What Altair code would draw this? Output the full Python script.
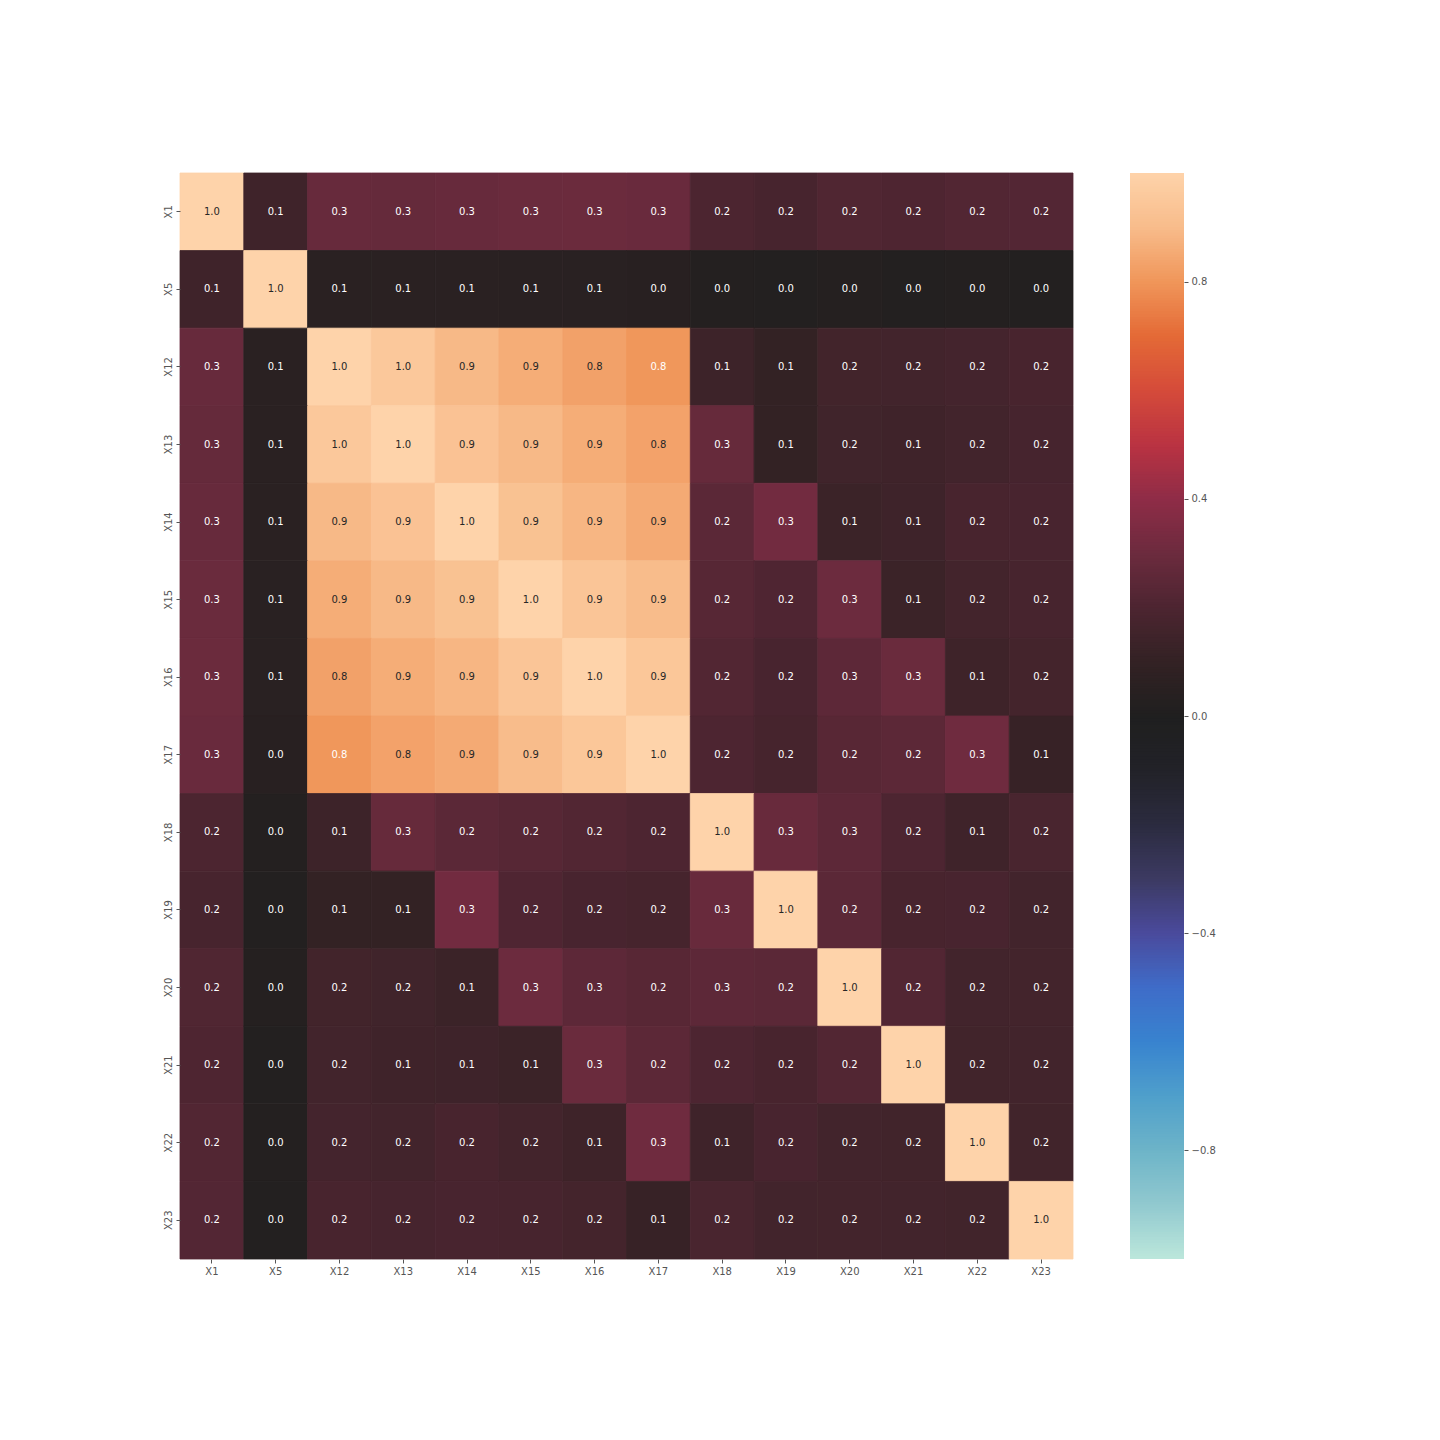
import altair as alt
import numpy as np
import pandas as pd

names = ["X1", "X5", "X12", "X13", "X14", "X15", "X16", "X17",
         "X18", "X19", "X20", "X21", "X22", "X23"]

r_X1 = [1.0, 0.145, 0.285, 0.278, 0.283, 0.294, 0.296, 0.290, 0.195, 0.178, 0.210, 0.203, 0.217, 0.220]
r_X5 = [0.145, 1.0, 0.056, 0.054, 0.054, 0.051, 0.051, 0.047, 0.026, 0.022, 0.029, 0.021, 0.023, 0.019]
r_X12 = [0.285, 0.056, 1.0, 0.951, 0.892, 0.860, 0.830, 0.803, 0.140, 0.099, 0.157, 0.159, 0.167, 0.179]
r_X13 = [0.278, 0.054, 0.951, 1.0, 0.928, 0.892, 0.860, 0.832, 0.280, 0.101, 0.151, 0.147, 0.158, 0.174]
r_X14 = [0.283, 0.054, 0.892, 0.928, 1.0, 0.924, 0.884, 0.853, 0.244, 0.317, 0.130, 0.143, 0.180, 0.182]
r_X15 = [0.294, 0.051, 0.860, 0.892, 0.924, 1.0, 0.940, 0.901, 0.233, 0.208, 0.300, 0.130, 0.160, 0.178]
r_X16 = [0.296, 0.051, 0.830, 0.860, 0.884, 0.940, 1.0, 0.946, 0.217, 0.181, 0.253, 0.293, 0.142, 0.164]
r_X17 = [0.290, 0.047, 0.803, 0.832, 0.853, 0.901, 0.946, 1.0, 0.200, 0.173, 0.234, 0.249, 0.308, 0.115]
r_X18 = [0.195, 0.026, 0.140, 0.280, 0.244, 0.233, 0.217, 0.200, 1.0, 0.286, 0.252, 0.200, 0.148, 0.186]
r_X19 = [0.178, 0.022, 0.099, 0.101, 0.317, 0.208, 0.181, 0.173, 0.286, 1.0, 0.245, 0.180, 0.181, 0.158]
r_X20 = [0.210, 0.029, 0.157, 0.151, 0.130, 0.300, 0.253, 0.234, 0.252, 0.245, 1.0, 0.216, 0.159, 0.163]
r_X21 = [0.203, 0.021, 0.159, 0.147, 0.143, 0.130, 0.293, 0.249, 0.200, 0.180, 0.216, 1.0, 0.152, 0.158]
r_X22 = [0.217, 0.023, 0.167, 0.158, 0.180, 0.160, 0.142, 0.308, 0.148, 0.181, 0.159, 0.152, 1.0, 0.155]
r_X23 = [0.220, 0.019, 0.179, 0.174, 0.182, 0.178, 0.164, 0.115, 0.186, 0.158, 0.163, 0.158, 0.155, 1.0]

rows = [r_X1, r_X5, r_X12, r_X13, r_X14, r_X15, r_X16, r_X17,
        r_X18, r_X19, r_X20, r_X21, r_X22, r_X23]

# icefire-like colour stops
cmap_domain = [-1.0, -0.9, -0.8, -0.7, -0.6, -0.5, -0.4, -0.3, -0.2, -0.1, 0.0,
               0.1, 0.2, 0.3, 0.4, 0.5, 0.6, 0.7, 0.8, 0.9, 1.0]
cmap_range = ["#bce7db", "#91c9cf", "#6db4c8", "#4f9fcb", "#3883cf", "#3f6cc8",
              "#4a4a9c", "#3c3a62", "#2b2b3f", "#222228", "#1f1f1f",
              "#332224", "#4d2531", "#6c2b3e", "#8f2c47", "#ba3342",
              "#d54b3a", "#e46a36", "#f0965a", "#f8bc8b", "#fed3aa"]

recs = []
for rname, vals in zip(names, rows):
    for cname, v in zip(names, vals):
        recs.append({"row": rname, "col": cname, "v": v})
df = pd.DataFrame(recs)

cscale = alt.Scale(domain=cmap_domain, range=cmap_range, interpolate="rgb")

axis_common = dict(domain=False, grid=False, tickSize=4, tickColor="#555555",
                   labelColor="#555555", labelFont="DejaVu Sans", labelFontSize=10,
                   labelPadding=3, title=None)

base = alt.Chart(df).encode(
    x=alt.X("col:N", sort=names, scale=alt.Scale(paddingInner=0, paddingOuter=0),
            axis=alt.Axis(labelAngle=0, **axis_common)),
    y=alt.Y("row:N", sort=names, scale=alt.Scale(paddingInner=0, paddingOuter=0),
            axis=alt.Axis(labelAngle=270, labelAlign="center", labelBaseline="bottom",
                          minExtent=20, maxExtent=20, **axis_common)),
)

rect = base.mark_rect(strokeWidth=0.8).encode(
    color=alt.Color("v:Q", scale=cscale, legend=None),
    stroke=alt.Stroke("v:Q", scale=cscale, legend=None),
)
text = base.mark_text(font="DejaVu Sans", fontSize=10).encode(
    text=alt.Text("v:Q", format=".1f"),
    color=alt.condition("datum.v > 0.815", alt.value("#262626"), alt.value("#ffffff")),
)
heat = alt.layer(rect, text).properties(width=893, height=1086)

# colorbar
n = 400
lo = np.linspace(-1, 1, n, endpoint=False)
step = 2.0 / n
cb_df = pd.DataFrame({"lo": lo, "hi": np.minimum(lo + step * 1.6, 1.0), "c": lo + step / 2})

cbar = alt.Chart(cb_df).mark_rect().encode(
    x=alt.value(0), x2=alt.value(54),
    y=alt.Y("lo:Q", scale=alt.Scale(domain=[-1, 1], nice=False, zero=False),
            axis=alt.Axis(orient="right", values=[-0.8, -0.4, 0.0, 0.4, 0.8], format=".1f",
                          **axis_common)),
    y2="hi:Q",
    color=alt.Color("c:Q", scale=cscale, legend=None),
).properties(width=54, height=1086)

chart = alt.hconcat(heat, cbar, spacing=56).properties(
    padding={"left": 152, "top": 164, "right": 10, "bottom": 10}
).configure_view(strokeWidth=0)

chart.save("out.html", embed_options={"renderer": "svg", "actions": False})
